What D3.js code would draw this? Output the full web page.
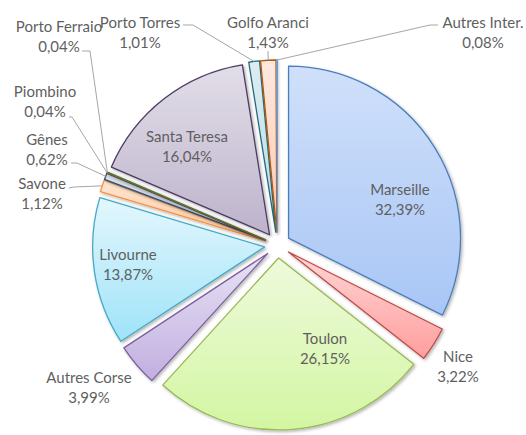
<!DOCTYPE html>
<html>
<head>
<meta charset="utf-8">
<script src="https://cdn.jsdelivr.net/npm/d3@7"></script>
<style>
  body { margin: 0; background: #fff; }
  text { font-family: Lato, "Open Sans", sans-serif; font-size: 15px; fill: #5f5f5f; }
</style>
</head>
<body>
<svg></svg>
<script>
const width = 526;
const height = 435;

// data
const ports = ['Marseille', 'Nice', 'Toulon', 'Autres Corse', 'Livourne', 'Savone', 'Gênes',
               'Piombino', 'Porto Ferraio', 'Santa Teresa', 'Porto Torres', 'Golfo Aranci', 'Autres Inter.'];
const shares = [32.39, 3.22, 26.15, 3.99, 13.87, 1.12, 0.62, 0.04, 0.04, 16.04, 1.01, 1.43, 0.08];
const shareLabels = ['32,39%', '3,22%', '26,15%', '3,99%', '13,87%', '1,12%', '0,62%',
                     '0,04%', '0,04%', '16,04%', '1,01%', '1,43%', '0,08%'];

// styling
const strokes = ['#4a7ebb', '#be4b48', '#98b954', '#7d60a0', '#46aac5', '#f69240', '#2c4d75',
                 '#772c2a', '#5f7530', '#4d3b62', '#276a7c', '#b65708', '#729aca'];
const topFill = ['#d0e0fa', '#ffd6d6', '#eefadc', '#e8e2f4', '#e3f7fd', '#fee6d2', '#dbe3ee',
                 '#f2d5d4', '#e6eed8', '#e2dee8', '#dcedf2', '#fde9e0', '#dce6f2'];
const bottomFill = ['#a8c6f5', '#ff9e9e', '#d3f6a2', '#c1afe0', '#9fe3f8', '#fdc69c', '#b8c9e0',
                    '#e0a8a6', '#c9dba5', '#bdb3cc', '#b6dde8', '#fbc8b0', '#b9cde5'];

// label layout: centre of first line, and optional leader [labelEnd, elbow]
const labelPos = {
  'Marseille': [400, 190], 'Nice': [458, 357], 'Toulon': [325, 339], 'Autres Corse': [89, 378],
  'Livourne': [128, 255], 'Savone': [42, 184], 'Gênes': [47, 140], 'Piombino': [45, 92],
  'Porto Ferraio': [59, 27], 'Santa Teresa': [187, 137], 'Porto Torres': [140, 23],
  'Golfo Aranci': [268, 23], 'Autres Inter.': [483, 23]
};
const leaders = {
  'Savone': [[69, 188], [74, 187]],
  'Gênes': [[71, 163], [77, 163]],
  'Piombino': [[69, 117], [72, 117]],
  'Porto Ferraio': [[82, 51], [90, 51]],
  'Porto Torres': [[183, 25], [193, 25]],
  'Golfo Aranci': [[268, 51], [268, 52]],
  'Autres Inter.': [[438, 25], [430, 25]]
};

const cx = 277.5, cy = 245, radius = 172, explode = 13;

const svg = d3.select('svg').attr('width', width).attr('height', height);
const defs = svg.append('defs');

const filter = defs.append('filter').attr('id', 'shadow')
  .attr('x', '-20%').attr('y', '-20%').attr('width', '140%').attr('height', '140%');
filter.append('feDropShadow').attr('dx', 1.5).attr('dy', 1.5).attr('stdDeviation', 1.8)
  .attr('flood-color', '#000').attr('flood-opacity', 0.3);

ports.forEach((p, i) => {
  const g = defs.append('linearGradient').attr('id', 'grad' + i)
    .attr('x1', 0).attr('y1', 0).attr('x2', 0).attr('y2', 1);
  g.append('stop').attr('offset', '0%').attr('stop-color', topFill[i]);
  g.append('stop').attr('offset', '100%').attr('stop-color', bottomFill[i]);
});

const pie = d3.pie().sort(null).value(d => d);
const arcs = pie(shares);
const arc = d3.arc().innerRadius(0).outerRadius(radius);

const chart = svg.append('g').attr('transform', `translate(${cx},${cy})`);

function offset(d, r) {
  const a = (d.startAngle + d.endAngle) / 2;
  return [Math.sin(a) * r, -Math.cos(a) * r];
}

chart.selectAll('path')
  .data(arcs)
  .enter()
  .append('path')
    .attr('transform', d => `translate(${offset(d, explode)})`)
    .attr('d', arc)
    .attr('fill', (d, i) => `url(#grad${i})`)
    .attr('stroke', (d, i) => strokes[i])
    .attr('stroke-width', 1.3)
    .attr('stroke-linejoin', 'round')
    .attr('filter', 'url(#shadow)');

// leader lines
arcs.forEach((d, i) => {
  const l = leaders[ports[i]];
  if (!l) return;
  const end = offset(d, radius + explode);
  const pts = [l[0], l[1], [cx + end[0], cy + end[1]]];
  svg.append('path')
    .attr('d', d3.line()(pts))
    .attr('fill', 'none')
    .attr('stroke', '#a6a6a6')
    .attr('stroke-width', 1);
});

// labels
ports.forEach((p, i) => {
  const [x, y] = labelPos[p];
  const t = svg.append('text').attr('text-anchor', 'middle');
  t.append('tspan').attr('x', x).attr('y', y).attr('dy', '0.35em').text(p);
  t.append('tspan').attr('x', x).attr('y', y + 20).attr('dy', '0.35em').text(shareLabels[i]);
});
</script>
</body>
</html>
